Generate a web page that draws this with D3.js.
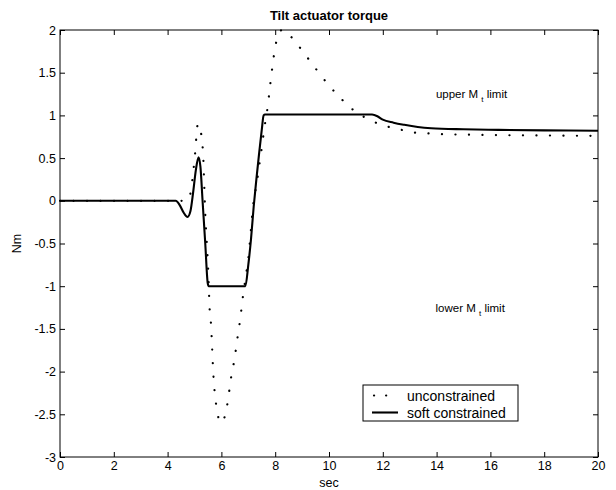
<!DOCTYPE html>
<html>
<head>
<meta charset="utf-8">
<script src="https://cdn.jsdelivr.net/npm/d3@7"></script>
<style>
  html, body { margin: 0; padding: 0; background: #fff; }
  svg { display: block; font-family: "Liberation Sans", Arial, Helvetica, sans-serif; }
</style>
</head>
<body>
<svg id="chart" width="616" height="490"></svg>
<script>
// Tilt actuator torque response, unconstrained vs soft-constrained controller
const titleText = "Tilt actuator torque";
const xLabel = "sec";
const yLabel = "Nm";

const xTicks = [0, 2, 4, 6, 8, 10, 12, 14, 16, 18, 20];
const yTicks = [2, 1.5, 1, 0.5, 0, -0.5, -1, -1.5, -2, -2.5, -3];

// unconstrained torque [sec, Nm]
const unconstrainedT = [0, 4.4, 4.7, 4.8, 4.87, 4.94, 5.03, 5.11, 5.17, 5.24, 5.3, 5.33, 5.36, 5.4, 5.44, 5.48, 5.52, 5.56, 5.61, 5.65, 5.68, 5.71, 5.75, 5.82, 5.9, 6.0, 6.1, 6.2, 6.29, 6.36, 6.46, 6.53, 6.6, 6.68, 6.74, 6.8, 6.9, 7.01, 7.1, 7.2, 7.3, 7.4, 7.5, 7.57, 7.64, 7.72, 7.8, 7.9, 8.0, 8.1, 8.25, 8.4, 8.7, 9.0, 9.5, 10.0, 10.5, 11.0, 11.5, 11.86, 12.29, 12.7, 13.16, 13.68, 14.18, 15.0, 16.0, 18.0, 20.0];
const unconstrainedM = [0, 0, 0, 0.04, 0.12, 0.3, 0.58, 0.88, 0.9, 0.8, 0.64, 0.48, 0.2, -0.15, -0.4, -0.62, -0.9, -1.25, -1.43, -1.68, -1.9, -2.08, -2.24, -2.42, -2.55, -2.6, -2.55, -2.42, -2.23, -2.07, -1.9, -1.76, -1.6, -1.43, -1.28, -1.12, -0.9, -0.65, -0.33, 0.0, 0.18, 0.4, 0.62, 0.79, 0.94, 1.1, 1.32, 1.58, 1.8, 1.93, 2.0, 1.98, 1.88, 1.76, 1.55, 1.35, 1.18, 1.04, 0.95, 0.9, 0.86, 0.83, 0.8, 0.79, 0.78, 0.775, 0.77, 0.765, 0.76];

// soft-constrained torque [sec, Nm]
const softT = [0, 4.3, 4.45, 4.6, 4.74, 4.85, 4.95, 5.05, 5.15, 5.22, 5.3, 5.4, 5.49, 5.53, 6.89, 7.0, 7.1, 7.2, 7.3, 7.4, 7.5, 7.57, 7.62, 11.6, 11.8, 12.0, 12.4, 12.8, 13.3, 13.8, 15.0, 16.3, 18.0, 20.0];
const softM = [0, 0, -0.05, -0.14, -0.19, -0.12, 0.1, 0.36, 0.51, 0.4, 0.0, -0.5, -0.96, -1.0, -1.0, -0.75, -0.45, -0.07, 0.25, 0.55, 0.83, 1.0, 1.01, 1.01, 0.99, 0.95, 0.915, 0.89, 0.865, 0.85, 0.837, 0.83, 0.825, 0.82];

const seriesNames = ["unconstrained", "soft constrained"];
const annotations = [
  { label: "upper M", sub: "t", rest: " limit", x: 15.3, y: 1.2 },
  { label: "lower M", sub: "t", rest: " limit", x: 15.25, y: -1.3 }
];

const svg = d3.select("#chart");
const margin = { left: 60, right: 18, top: 30, bottom: 33 };
const W = 616, H = 490;

const x = d3.scaleLinear().domain([0, 20]).range([margin.left, W - margin.right]);
const y = d3.scaleLinear().domain([-3, 2]).range([H - margin.bottom, margin.top]);

const tickLen = 5;
const axisFont = "12.5px";
const plain = d => String(d); // hyphen-minus, as on the printed axes

// plot box
svg.append("rect")
  .attr("x", x(0)).attr("y", y(2))
  .attr("width", x(20) - x(0)).attr("height", y(-3) - y(2))
  .attr("fill", "none").attr("stroke", "#000").attr("stroke-width", 1);

// axes with inward ticks on all four sides
const styleAxis = g => {
  g.select(".domain").remove();
  g.selectAll(".tick line").attr("stroke", "#000").attr("stroke-width", 1);
  g.selectAll(".tick text").attr("fill", "#000").style("font-size", axisFont);
};

svg.append("g").attr("transform", `translate(0,${y(-3)})`)
  .call(d3.axisBottom(x).tickValues(xTicks).tickFormat(plain).tickSizeInner(-tickLen).tickPadding(4))
  .call(styleAxis);
svg.append("g").attr("transform", `translate(0,${y(2)})`)
  .call(d3.axisTop(x).tickValues(xTicks).tickFormat("").tickSizeInner(-tickLen))
  .call(styleAxis);
svg.append("g").attr("transform", `translate(${x(0)},0)`)
  .call(d3.axisLeft(y).tickValues(yTicks).tickFormat(plain).tickSizeInner(-tickLen).tickPadding(4))
  .call(styleAxis);
svg.append("g").attr("transform", `translate(${x(20)},0)`)
  .call(d3.axisRight(y).tickValues(yTicks).tickFormat("").tickSizeInner(-tickLen))
  .call(styleAxis);

// curves
const line = d3.line().x(d => x(d[0])).y(d => y(d[1])).curve(d3.curveMonotoneX);
const unconstrained = d3.zip(unconstrainedT, unconstrainedM);
const soft = d3.zip(softT, softM);

svg.append("path").datum(unconstrained)
  .attr("d", line).attr("fill", "none").attr("stroke", "#000")
  .attr("stroke-width", 2.2).attr("stroke-linecap", "round")
  .attr("stroke-dasharray", "0.1 13.4");

svg.append("path").datum(soft)
  .attr("d", line).attr("fill", "none").attr("stroke", "#000")
  .attr("stroke-width", 2.1).attr("stroke-linejoin", "round");

// limit annotations
annotations.forEach(a => {
  const t = svg.append("text")
    .attr("x", x(a.x)).attr("y", y(a.y))
    .attr("text-anchor", "middle").style("font-size", "11.5px").attr("fill", "#000");
  t.append("tspan").text(a.label + " ");
  t.append("tspan").attr("dy", 4).style("font-size", "8px").text(a.sub);
  t.append("tspan").attr("dy", -4).text(a.rest);
});

// title and axis labels
svg.append("text").attr("x", (x(0) + x(20)) / 2).attr("y", 20)
  .attr("text-anchor", "middle").style("font-size", "13px").style("font-weight", "bold")
  .text(titleText);
svg.append("text").attr("x", (x(0) + x(20)) / 2).attr("y", 487)
  .attr("text-anchor", "middle").style("font-size", "12.5px").text(xLabel);
svg.append("text").attr("transform", `translate(21,${(y(2) + y(-3)) / 2}) rotate(-90)`)
  .attr("text-anchor", "middle").style("font-size", "12.5px").text(yLabel);

// legend
const lg = svg.append("g").attr("transform", "translate(363,385)");
lg.append("rect").attr("width", 155).attr("height", 36)
  .attr("fill", "#fff").attr("stroke", "#000").attr("stroke-width", 1);
const rows = [
  { name: seriesNames[0], x1: 11, x2: 24, dash: "0.1 12", width: 2.2 },
  { name: seriesNames[1], x1: 9, x2: 35, dash: null, width: 2.1 }
];
rows.forEach((r, i) => {
  const cy = 10.5 + i * 17;
  lg.append("line").attr("x1", r.x1).attr("x2", r.x2).attr("y1", cy).attr("y2", cy)
    .attr("stroke", "#000").attr("stroke-width", r.width)
    .attr("stroke-linecap", r.dash ? "round" : "butt")
    .attr("stroke-dasharray", r.dash);
  lg.append("text").attr("x", 44).attr("y", cy + 5)
    .style("font-size", "14px").attr("fill", "#000").text(r.name);
});
</script>
</body>
</html>
